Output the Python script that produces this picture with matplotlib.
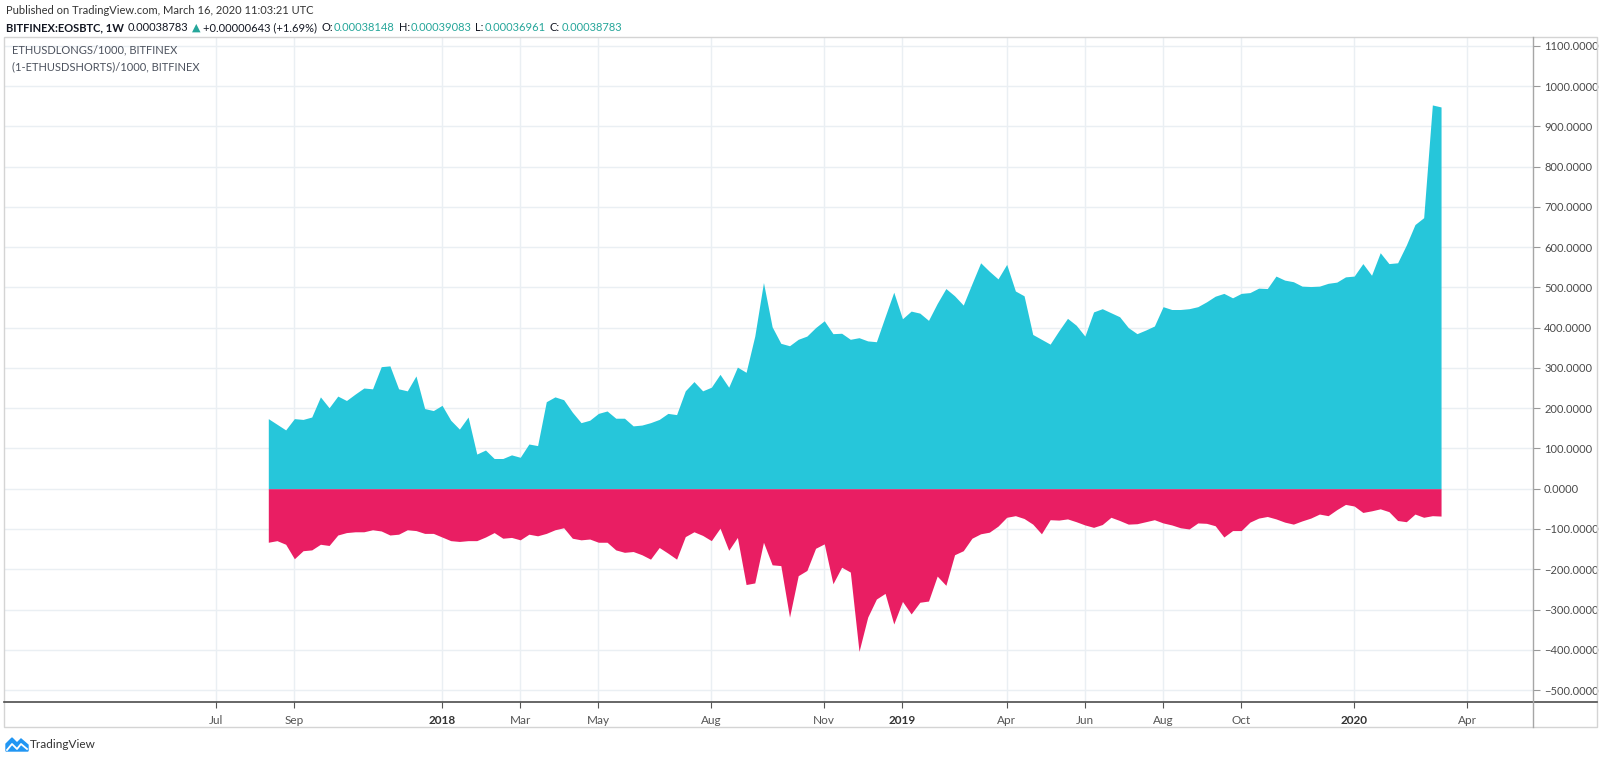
import matplotlib
matplotlib.use('Agg')
import matplotlib.pyplot as plt
import pandas as pd
from matplotlib.transforms import IdentityTransform
from matplotlib.patches import Rectangle, Polygon
from matplotlib.lines import Line2D

# weekly bars, BITFINEX ETH longs / shorts (divided by 1000)
start_date = '2017-08-14'
longs = [174, 160, 146, 174, 172, 178, 228, 201, 230, 219,
         235, 250, 248, 303, 305, 248, 243, 280, 199, 194,
         207, 170, 148, 178, 86, 96, 75, 75, 84, 78,
         111, 107, 216, 228, 221, 190, 164, 170, 187, 193,
         175, 175, 156, 158, 164, 172, 187, 184, 243, 266,
         243, 252, 284, 252, 302, 289, 379, 512, 402, 361,
         355, 371, 379, 400, 417, 385, 386, 371, 375, 367,
         365, 427, 488, 422, 441, 436, 418, 460, 497, 479,
         456, 509, 561, 540, 521, 557, 491, 479, 383, 371,
         359, 392, 423, 406, 379, 439, 447, 437, 427, 400,
         385, 394, 404, 452, 445, 445, 447, 452, 464, 478,
         485, 474, 485, 487, 498, 497, 528, 518, 514, 503,
         502, 503, 510, 513, 526, 528, 559, 530, 586, 559,
         561, 605, 656, 673, 953, 948]
shorts = [-133, -129, -138, -174, -154, -152, -138, -141, -115, -109,
          -107, -107, -102, -105, -115, -113, -102, -104, -111, -111,
          -120, -129, -131, -129, -129, -120, -109, -123, -121, -127,
          -113, -117, -111, -102, -97, -123, -127, -125, -133, -133,
          -152, -158, -156, -164, -175, -146, -160, -175, -119, -107,
          -116, -129, -98, -153, -121, -238, -234, -133, -189, -191,
          -319, -216, -203, -148, -137, -236, -195, -207, -404, -319,
          -274, -260, -336, -280, -311, -282, -279, -217, -240, -164,
          -154, -123, -112, -108, -93, -71, -67, -74, -88, -112,
          -77, -78, -75, -82, -90, -96, -89, -71, -79, -88,
          -87, -82, -77, -85, -90, -97, -100, -85, -86, -92,
          -120, -104, -104, -83, -73, -69, -75, -83, -88, -80,
          -73, -63, -67, -52, -39, -43, -59, -55, -50, -57,
          -79, -82, -63, -71, -67, -68]

tick_dates = ['2017-07-03', '2017-09-04', '2018-01-01', '2018-03-05', '2018-05-07',
              '2018-08-06', '2018-11-05', '2019-01-07', '2019-04-01', '2019-06-03',
              '2019-08-05', '2019-10-07', '2020-01-06', '2020-04-06']
tick_labels = ['Jul', 'Sep', '2018', 'Mar', 'May', 'Aug', 'Nov', '2019',
               'Apr', 'Jun', 'Aug', 'Oct', '2020', 'Apr']
y_ticks = list(range(-500, 1101, 100))

CYAN = '#26c6da'
PINK = '#e91e63'
TEAL = '#26a69a'
DARK = '#131722'
GRID = '#eaeff3'
FONTS = ['Lato', 'DejaVu Sans']
FS = 8

plt.rcParams['font.family'] = FONTS

W, H = 1600, 761
fig = plt.figure(figsize=(W / 100, H / 100), dpi=100)
ax = fig.add_axes([4 / W, 1 - 702 / H, (1533 - 4) / W, (702 - 37) / H])

dates = pd.date_range(start_date, periods=len(longs), freq='7D')
ax.fill_between(dates, 0, longs, color=CYAN, lw=0, zorder=2)
ax.fill_between(dates, 0, shorts, color=PINK, lw=0, zorder=2)

# bar spacing in pixels -> time limits of the pane
px_week = 8.687
x0 = 268.3
ax.set_xlim(dates[0] - pd.Timedelta(days=(x0 - 4) / px_week * 7),
            dates[0] + pd.Timedelta(days=(1533 - x0) / px_week * 7))
ax.set_ylim(-529.7, 1121.7)

ax.set_xticks(pd.to_datetime(tick_dates))
ax.set_xticklabels(tick_labels)
for lab in ax.get_xticklabels():
    if lab.get_text().isdigit():
        lab.set_fontweight('bold')
        lab.set_color('#333333')
    else:
        lab.set_color('#555555')
ax.tick_params(axis='x', length=4, color='#555555', labelsize=8.5, pad=5)

ax.yaxis.tick_right()
ax.set_yticks(y_ticks)
ax.set_yticklabels([f'{v:.4f}'.replace('-', '\u2212') for v in y_ticks])
ax.tick_params(axis='y', length=5, color='#999999', labelsize=FS,
               labelcolor='#4a4a4a', pad=3)

ax.grid(color=GRID, lw=1)
ax.set_axisbelow(True)
for s in ax.spines.values():
    s.set_visible(False)

# pane frame and axis lines
def fig_line(xs, ys, color, lw=1.0):
    fig.add_artist(Line2D([x / W for x in xs], [1 - y / H for y in ys],
                          color=color, lw=lw, transform=fig.transFigure))

fig.add_artist(Rectangle((4 / W, 1 - 727 / H), (1597 - 4) / W, (727 - 37) / H,
                         fill=False, edgecolor='#d4d4d4', lw=1,
                         transform=fig.transFigure))
fig_line([4, 1597], [702, 702], '#4d4d4d', 1.2)
fig_line([1533, 1533], [37, 727], '#a6a6a6', 1.0)

# legend of the two studies
ax.text(8 / (1533 - 4), 1 - 13 / 665, 'ETHUSDLONGS/1000, BITFINEX',
        transform=ax.transAxes, fontsize=FS, color='#4c525e', va='center')
ax.text(8 / (1533 - 4), 1 - 30 / 665, '(1-ETHUSDSHORTS)/1000, BITFINEX',
        transform=ax.transAxes, fontsize=FS, color='#4c525e', va='center')

# header
fig.text(6 / W, 1 - 10 / H, 'Published on TradingView.com, March 16, 2020 11:03:21 UTC',
         fontsize=FS, color='#333333', va='center')

renderer = fig.canvas.get_renderer()
parts = [('BITFINEX:EOSBTC, 1W', DARK, 'bold'), ('0.00038783', DARK, 'normal'),
         ('\u25b2', TEAL, 'normal'), ('+0.00000643 (+1.69%)', DARK, 'normal'),
         ('O:', DARK, 'normal'), ('0.00038148', TEAL, 'normal'),
         ('H:', DARK, 'normal'), ('0.00039083', TEAL, 'normal'),
         ('L:', DARK, 'normal'), ('0.00036961', TEAL, 'normal'),
         ('C:', DARK, 'normal'), ('0.00038783', TEAL, 'normal')]
xp = 6
gaps = [4, 3, 3, 4, 1, 4, 1, 4, 1, 4, 1, 0]
for (s, c, w), g in zip(parts, gaps):
    t = fig.text(xp, H - 27.5, s, color=c, fontweight=w, fontsize=FS, va='center',
                 transform=IdentityTransform(), family=FONTS)
    bb = t.get_window_extent(renderer)
    xp = bb.x1 + g

# TradingView logo
fig.add_artist(Polygon([(6 / W, 1 - 751 / H), (6 / W, 1 - 744 / H), (12 / W, 1 - 738 / H),
                        (17 / W, 1 - 743 / H), (21 / W, 1 - 739 / H), (28 / W, 1 - 745 / H),
                        (28 / W, 1 - 751 / H)], closed=True, color='#2196f3',
                       transform=fig.transFigure))
fig_line([7, 12, 17, 21, 27], [750, 744, 749, 744, 749], 'white', 1.3)
fig.text(30 / W, 1 - 745 / H, 'TradingView', fontsize=FS + 0.5, color='#333333', va='center')

fig.savefig('out.png', dpi=100)
